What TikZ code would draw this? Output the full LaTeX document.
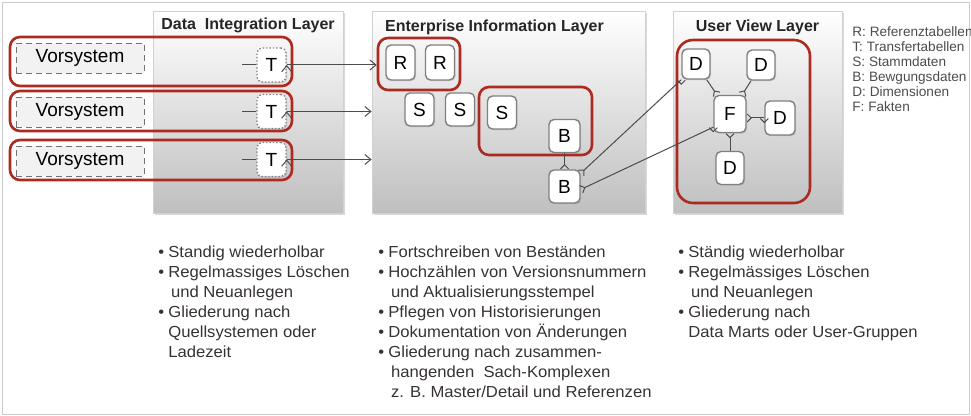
\documentclass[tikz,border=0pt]{standalone}
\usepackage{fontspec}
\setmainfont{Liberation Sans}
\newfontfamily\notefont[FakeStretch=1.04]{Liberation Sans}
\usetikzlibrary{arrows.meta,shadows}
\definecolor{framered}{RGB}{172,42,32}
\definecolor{textgray}{RGB}{55,50,50}
\newcommand{\itm}{\makebox[5pt][l]{\textbullet}}
\newcommand{\ind}{\hspace*{5pt}}
\begin{document}
\begin{tikzpicture}[x=0.5pt,y=-0.5pt]
        \tikzstyle{layer}=[draw=black!18,top color=white,bottom color=black!25,inner sep=0,drop shadow={opacity=0.3,shadow xshift=1.2pt,shadow yshift=-1.2pt}]
        \tikzstyle{title}=[font=\fontsize{8}{9.6}\selectfont\bfseries,text=black!85]
        \tikzstyle{redframe}=[draw=framered,line width=1.3pt,rounded corners=5pt,inner sep=0]
        \tikzstyle{entity}=[rectangle,draw=black!50,line width=0.7pt,fill=white,rounded corners=2.5pt,minimum width=14.5pt,minimum height=16.5pt,inner sep=0,font=\fontsize{9.5}{11}\selectfont,drop shadow={opacity=0.25,shadow xshift=0.6pt,shadow yshift=-0.6pt}]
        \tikzstyle{transfer}=[entity,densely dotted]
        \tikzstyle{vorsys}=[draw=black!55,densely dashed,fill=black!5,minimum width=64pt,minimum height=15pt,inner sep=0,font=\fontsize{9.5}{11}\selectfont]
        \tikzstyle{edge}=[draw=black!70,line width=0.5pt]
        \tikzstyle{flow}=[edge,-{Straight Barb[length=3pt,width=5pt]}]
        \tikzstyle{many}=[edge,-{Straight Barb[reversed,length=2pt,width=4pt]}]
        \tikzstyle{notes}=[anchor=north west,align=left,inner sep=0,text=textgray,font=\notefont\fontsize{8}{10}\selectfont]
        \useasboundingbox (0,0) rectangle (971,416);
        \draw[black!20] (2,2) rectangle (969,414);
       \begin{scope}
         \node [layer,minimum width=95pt,minimum height=101pt] (dil) at (248,112) {};
         \node [layer,minimum width=136.5pt,minimum height=101pt] (eil) at (508.5,112) {};
         \node [layer,minimum width=84.5pt,minimum height=101pt] (uvl) at (757.5,112) {};
         \node [title] (dilt) at (248,25) {Data~ Integration Layer};
         \node [title] (eilt) at (494.5,27) {Enterprise Information Layer};
         \node [title] (uvlt) at (757.5,27) {User View Layer};
        \end{scope}
       \begin{scope}
         \node [redframe,minimum width=141pt,minimum height=24.5pt] (row1) at (151,61.5) {};
         \node [redframe,minimum width=141pt,minimum height=20pt] (row2) at (151,111) {};
         \node [redframe,minimum width=141pt,minimum height=20pt] (row3) at (151,160) {};
         \node [vorsys] (v1) at (80,58) {Vorsystem};
         \node [vorsys] (v2) at (80,112) {Vorsystem};
         \node [vorsys] (v3) at (80,161) {Vorsystem};
         \node [transfer,minimum height=17pt] (t1) at (271.5,65) {T};
         \node [transfer,minimum height=17pt] (t2) at (271.5,111.5) {T};
         \node [transfer,minimum height=17pt] (t3) at (271.5,159.5) {T};
         \draw[edge] (t1.west) -- ++(-7pt,0);
         \draw[edge] (t2.west) -- ++(-7pt,0);
         \draw[edge] (t3.west) -- ++(-7pt,0);
        \end{scope}
       \begin{scope}
         \node [redframe,minimum width=41pt,minimum height=26pt] (rgrp) at (419,64) {};
         \node [redframe,minimum width=56.5pt,minimum height=34pt] (sbgrp) at (535.5,121) {};
         \node [entity,minimum height=17.5pt] (r1) at (400.5,62.5) {R};
         \node [entity,minimum height=17.5pt] (r2) at (440,62.5) {R};
         \node [entity] (s1) at (419.5,109.5) {S};
         \node [entity] (s2) at (460,109.5) {S};
         \node [entity] (s3) at (502,112.5) {S};
         \node [entity,minimum width=15.5pt] (b1) at (564.5,136) {B};
         \node [entity,minimum width=15.5pt] (b2) at (564.5,186.5) {B};
         \path[flow] (t1.east) edge (t1.east -| rgrp.west);
         \path[flow] (t2.east) edge (t2.east -| eil.west);
         \path[flow] (t3.east) edge (t3.east -| eil.west);
         \path[many] (b1) edge (b2);
        \end{scope}
       \begin{scope}
         \node [redframe,rounded corners=8pt,minimum width=66.5pt,minimum height=81.5pt] (dmgrp) at (743.5,121.5) {};
         \node [entity,minimum width=14pt,minimum height=15pt] (d1) at (696,64) {D};
         \node [entity,minimum width=14pt,minimum height=15pt] (d2) at (761,65) {D};
         \node [entity,minimum width=16pt,minimum height=18.5pt] (f) at (730,114) {F};
         \node [entity,minimum width=15pt,minimum height=17pt] (d3) at (780,118) {D};
         \node [entity,minimum width=14pt,minimum height=16.5pt] (d4) at (730,168) {D};
         \path[many] (d1) edge (f);
         \path[many] (d2) edge (f);
         \path[many] (d3.west) edge (d3.west -| f.east);
         \path[many] (d4) edge (f);
         \path[many] (d1.south west) edge ([yshift=-2pt]b2.north east);
         \path[many] ([yshift=3pt]f.south west) edge ([yshift=-1.5pt]b2.east);
        \end{scope}
       \node [notes,font=\fontsize{6.8}{7.5}\selectfont,text=black!70] (legend) at (852,26) {R: Referenztabellen\\T: Transfertabellen\\S: Stammdaten\\B: Bewgungsdaten\\D: Dimensionen\\F: Fakten};
       \node [notes] (dilnotes) at (158,246) {\itm Standig wiederholbar\\\itm Regelmassiges Löschen\\\ind\,und Neuanlegen\\\itm Gliederung nach\\\ind Quellsystemen oder\\\ind Ladezeit};
       \node [notes] (eilnotes) at (378,246) {\itm Fortschreiben von Beständen\\\itm Hochzählen von Versionsnummern\\\ind\,und Aktualisierungsstempel\\\itm Pflegen von Historisierungen\\\itm Dokumentation von Änderungen\\\itm Gliederung nach zusammen-\\\ind\,hangenden~ Sach-Komplexen\\\ind\,z. B. Master/Detail und Referenzen};
       \node [notes] (uvlnotes) at (678,246) {\itm Ständig wiederholbar\\\itm Regelmässiges Löschen\\\ind\,und Neuanlegen\\\itm Gliederung nach\\\ind Data Marts oder User-Gruppen};
      \end{tikzpicture}
\end{document}
